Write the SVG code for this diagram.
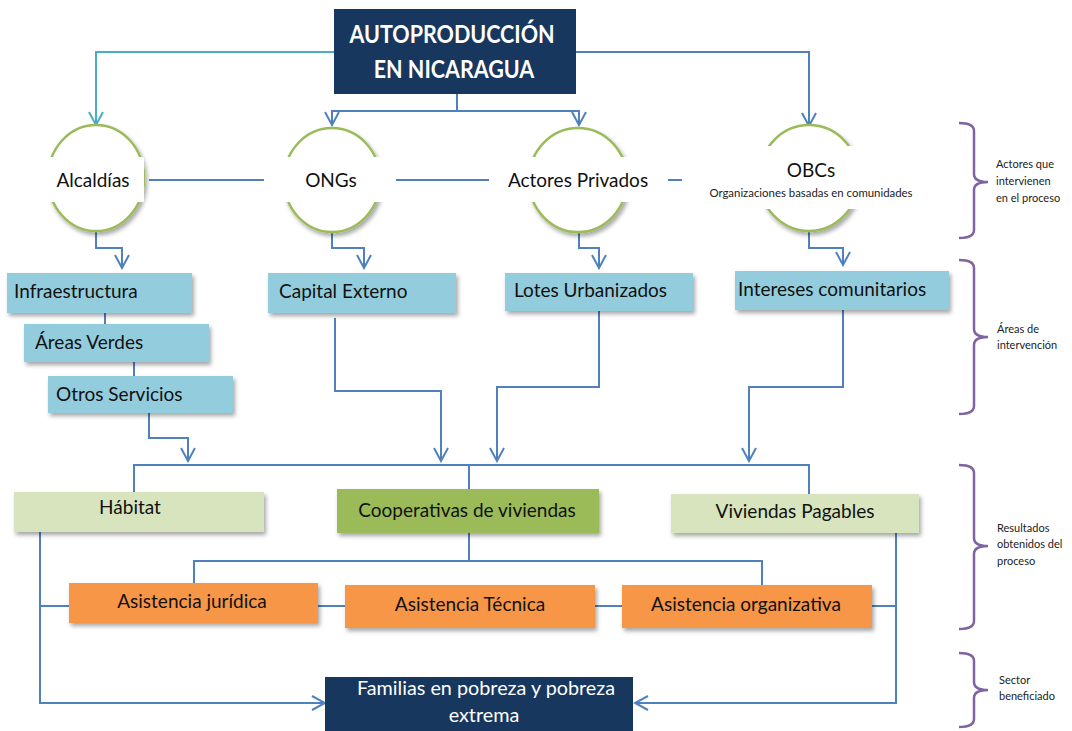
<svg xmlns="http://www.w3.org/2000/svg" width="1072" height="731" viewBox="0 0 1072 731">
  <defs>
    <style>
      .lbl { font-family: Lato, "Liberation Sans", sans-serif; font-size: 19px; fill: #111; }
      .mid { text-anchor: middle; }
      .note { font-family: Lato, "Liberation Sans", sans-serif; font-size: 11px; fill: #222; }
      .title { font-family: Lato, "Liberation Sans", sans-serif; font-size: 21.5px; font-weight: bold; fill: #fff; text-anchor: middle; }
      .navy { fill: #17375E; }
      .blue { fill: #93CDDD; filter: url(#shadow); }
      .pale { fill: #D7E4BD; filter: url(#shadow); }
      .green { fill: #9BBB59; filter: url(#shadow); }
      .orange { fill: #F79646; filter: url(#shadow); }
      .ring { fill: #fff; stroke: #9BBB59; stroke-width: 2.5; filter: url(#shadow); }
      .band { fill: #fff; }
      .wire { fill: none; stroke: #4F81BD; stroke-width: 2; }
      .wire.cyan { stroke: #4BACC6; }
      .brace { fill: none; stroke: #8064A2; stroke-width: 2.5; }
      .light { fill: #fff; }
    </style>
    <filter id="shadow" x="-10%" y="-20%" width="125%" height="150%">
      <feDropShadow dx="2" dy="3" stdDeviation="2" flood-color="#000" flood-opacity="0.35"/>
    </filter>
    <marker id="arr" viewBox="-15 -9 17 18" refX="0" refY="0" markerWidth="17" markerHeight="18" markerUnits="userSpaceOnUse" orient="auto">
      <path d="M-13,-7 L0,0 L-13,7" fill="none" stroke="#4F81BD" stroke-width="2"/>
    </marker>
    <marker id="arrc" viewBox="-15 -9 17 18" refX="0" refY="0" markerWidth="17" markerHeight="18" markerUnits="userSpaceOnUse" orient="auto">
      <path d="M-13,-7 L0,0 L-13,7" fill="none" stroke="#4BACC6" stroke-width="2"/>
    </marker>
  </defs>

  <rect width="1072" height="731" fill="#fff"/>

  <!-- connectors -->
  <g id="connectors">
    <path class="wire cyan" d="M334,52 H96 V125" marker-end="url(#arrc)"/>
    <path class="wire" d="M576,52 H809 V126" marker-end="url(#arr)"/>
    <path class="wire" d="M457,94 V111 H332 V125" marker-end="url(#arr)"/>
    <path class="wire" d="M457,111 H579 V125" marker-end="url(#arr)"/>
    <path class="wire" d="M149,180 H264 M396,180 H489 M668,180 H682"/>
    <path class="wire" d="M96,231 V248 H122 V268" marker-end="url(#arr)"/>
    <path class="wire" d="M332,232 V248 H364 V268" marker-end="url(#arr)"/>
    <path class="wire" d="M579,231 V248 H599 V268" marker-end="url(#arr)"/>
    <path class="wire" d="M809,231 V248 H843 V265" marker-end="url(#arr)"/>
    <path class="wire" d="M105,313 V324 M134,362 V376"/>
    <path class="wire" d="M149,413 V438 H188 V461" marker-end="url(#arr)"/>
    <path class="wire" d="M335,318 V391 H441 V461" marker-end="url(#arr)"/>
    <path class="wire" d="M599,311 V387 H497 V461" marker-end="url(#arr)"/>
    <path class="wire" d="M843,310 V387 H749 V461" marker-end="url(#arr)"/>
    <path class="wire" d="M134,492 V465 H809 V494 M469,465 V489"/>
    <path class="wire" d="M469,533 V561 M194,583 V561 H762 V585"/>
    <path class="wire" d="M40,606 H69 M318,606 H345 M595,606 H622 M872,606 H896"/>
    <path class="wire" d="M40,532 V703 H325" marker-end="url(#arr)"/>
    <path class="wire" d="M896,533 V703 H635" marker-end="url(#arr)"/>
  </g>

  <!-- title -->
  <g id="autoproduccion">
    <rect class="navy" x="334" y="9" width="242" height="85"/>
    <text class="title" transform="translate(452,43) scale(1,1.12)">AUTOPRODUCCIÓN</text>
    <text class="title" transform="translate(454,78) scale(1,1.12)">EN NICARAGUA</text>
  </g>

  <!-- actors -->
  <g id="alcaldias">
    <ellipse class="ring" cx="96" cy="178" rx="48" ry="53"/>
    <rect class="band" x="44" y="157" width="100" height="45"/>
    <text class="lbl mid" x="93" y="187">Alcaldías</text>
  </g>
  <g id="ongs">
    <ellipse class="ring" cx="332" cy="180" rx="48" ry="52"/>
    <rect class="band" x="268" y="157" width="124" height="45"/>
    <text class="lbl mid" x="331" y="187">ONGs</text>
  </g>
  <g id="actores-privados">
    <ellipse class="ring" cx="578" cy="180" rx="49" ry="52"/>
    <rect class="band" x="493" y="157" width="171" height="45"/>
    <text class="lbl mid" x="578" y="187">Actores Privados</text>
  </g>
  <g id="obcs">
    <ellipse class="ring" cx="809" cy="178" rx="50" ry="53"/>
    <rect class="band" x="686" y="146" width="238" height="63"/>
    <text class="lbl mid" x="811" y="177">OBCs</text>
    <text class="note mid" x="811" y="197" style="font-size:11.4px">Organizaciones basadas en comunidades</text>
  </g>

  <!-- areas -->
  <g id="infraestructura">
    <rect class="blue" x="7" y="273" width="185" height="40"/>
    <text class="lbl" x="14" y="298">Infraestructura</text>
  </g>
  <g id="areas-verdes">
    <rect class="blue" x="24" y="324" width="185" height="38"/>
    <text class="lbl" x="35" y="349">Áreas Verdes</text>
  </g>
  <g id="otros-servicios">
    <rect class="blue" x="48" y="376" width="185" height="37"/>
    <text class="lbl" x="56" y="401">Otros Servicios</text>
  </g>
  <g id="capital-externo">
    <rect class="blue" x="268" y="273" width="188" height="40"/>
    <text class="lbl" x="279" y="298">Capital Externo</text>
  </g>
  <g id="lotes-urbanizados">
    <rect class="blue" x="505" y="273" width="188" height="38"/>
    <text class="lbl" x="514" y="297">Lotes Urbanizados</text>
  </g>
  <g id="intereses-comunitarios">
    <rect class="blue" x="735" y="271" width="214" height="39"/>
    <text class="lbl" x="738" y="296">Intereses comunitarios</text>
  </g>

  <!-- results -->
  <g id="habitat">
    <rect class="pale" x="14" y="492" width="250" height="40"/>
    <text class="lbl mid" x="130" y="514">Hábitat</text>
  </g>
  <g id="cooperativas">
    <rect class="green" x="337" y="489" width="262" height="44"/>
    <text class="lbl mid" x="467" y="517">Cooperativas de viviendas</text>
  </g>
  <g id="viviendas-pagables">
    <rect class="pale" x="671" y="494" width="248" height="39"/>
    <text class="lbl mid" x="795" y="518">Viviendas Pagables</text>
  </g>

  <!-- assistance -->
  <g id="asistencia-juridica">
    <rect class="orange" x="69" y="583" width="249" height="40"/>
    <text class="lbl mid" x="192" y="608">Asistencia jurídica</text>
  </g>
  <g id="asistencia-tecnica">
    <rect class="orange" x="345" y="585" width="250" height="43"/>
    <text class="lbl mid" x="470" y="611">Asistencia Técnica</text>
  </g>
  <g id="asistencia-organizativa">
    <rect class="orange" x="622" y="585" width="250" height="43"/>
    <text class="lbl mid" x="746" y="611">Asistencia organizativa</text>
  </g>

  <!-- beneficiaries -->
  <g id="familias">
    <rect class="navy" x="325" y="677" width="308" height="54"/>
    <text class="lbl mid light" x="486" y="695" style="font-size:19.8px">Familias en pobreza y pobreza</text>
    <text class="lbl mid light" x="484" y="722" style="font-size:19.8px">extrema</text>
  </g>

  <!-- side braces -->
  <g id="brace-actores">
    <path class="brace" d="M959,123 Q974,123 974,131 V174 Q974,182 988,182 Q974,182 974,190 V230 Q974,238 959,238"/>
    <text class="note" x="996" y="168">Actores que</text>
    <text class="note" x="996" y="185">intervienen</text>
    <text class="note" x="996" y="202">en el proceso</text>
  </g>
  <g id="brace-areas">
    <path class="brace" d="M959,260 Q974,260 974,268 V329 Q974,337 988,337 Q974,337 974,345 V406 Q974,414 959,414"/>
    <text class="note" x="997" y="333">Áreas de</text>
    <text class="note" x="997" y="349">intervención</text>
  </g>
  <g id="brace-resultados">
    <path class="brace" d="M959,465 Q974,465 974,473 V538 Q974,546 988,546 Q974,546 974,554 V621 Q974,629 959,629"/>
    <text class="note" x="997" y="532">Resultados</text>
    <text class="note" x="997" y="548">obtenidos del</text>
    <text class="note" x="997" y="565">proceso</text>
  </g>
  <g id="brace-sector">
    <path class="brace" d="M959,653 Q974,653 974,661 V682 Q974,690 988,690 Q974,690 974,698 V719 Q974,727 959,727"/>
    <text class="note" x="999" y="684">Sector</text>
    <text class="note" x="999" y="700">beneficiado</text>
  </g>
</svg>
